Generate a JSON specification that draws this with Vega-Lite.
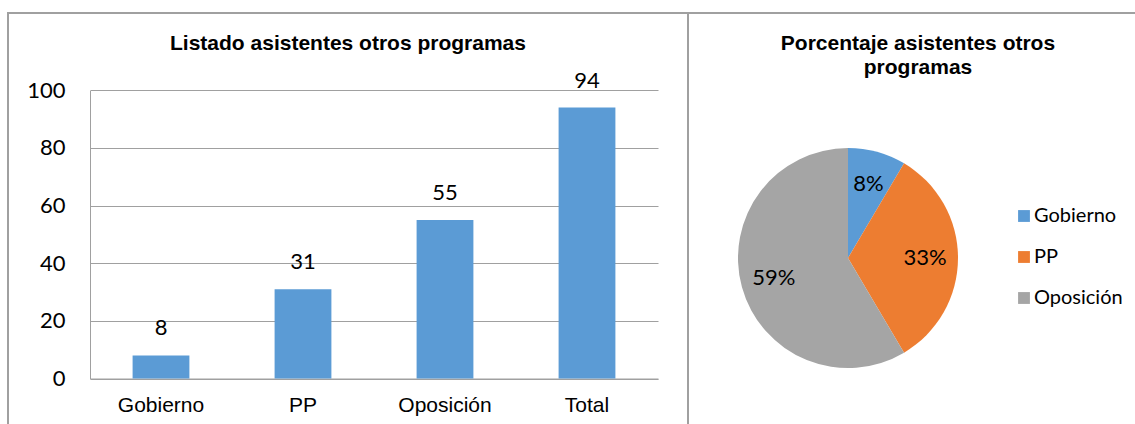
{
  "$schema": "https://vega.github.io/schema/vega-lite/v6.json",
  "padding": {"left": 7, "top": 12, "right": 0, "bottom": 0},
  "background": "white",
  "spacing": 0,
  "bounds": "flush",
  "datasets": {
    "bars": [
      {"cat": "Gobierno", "value": 8},
      {"cat": "PP", "value": 31},
      {"cat": "Oposición", "value": 55},
      {"cat": "Total", "value": 94}
    ],
    "pie": [
      {"cat": "Gobierno", "value": 8, "pct": "8%", "order": 1},
      {"cat": "PP", "value": 31, "pct": "33%", "order": 2},
      {"cat": "Oposición", "value": 55, "pct": "59%", "order": 3}
    ]
  },
  "config": {
    "view": {"stroke": "#a0a0a0", "strokeWidth": 2},
    "style": {"view": {"stroke": "#a0a0a0", "strokeWidth": 2}},
    "title": {"font": "Liberation Sans", "fontSize": 21, "fontWeight": "bold", "color": "#000000", "anchor": "middle"}
  },
  "hconcat": [
    {
      "width": 680,
      "height": 420,
      "data": {"name": "bars"},
      "title": {"text": "Listado asistentes otros programas", "offset": -41},
      "encoding": {
        "x": {
          "field": "cat", "type": "nominal", "sort": null,
          "scale": {"range": [82, 650], "paddingInner": 0.6, "paddingOuter": 0.3},
          "axis": {"orient": "bottom", "offset": -54.5, "title": null, "labelAngle": 0, "labelFont": "Liberation Sans", "labelFontSize": 21, "labelColor": "#000000", "labelBaseline": "alphabetic", "labelPadding": 33, "ticks": false, "tickSize": 0, "domainColor": "#a0a0a0", "grid": false}
        },
        "y": {
          "field": "value", "type": "quantitative",
          "scale": {"domain": [0, 100], "range": [365.5, 77.3], "nice": false},
          "axis": {"offset": -82, "title": null, "values": [0, 20, 40, 60, 80, 100], "labelFont": "Lato", "labelFontSize": 22, "labelColor": "#000000", "labelPadding": 25, "ticks": false, "tickSize": 0, "domainColor": "#a0a0a0", "gridColor": "#a0a0a0", "grid": true, "labelBaseline": "middle"}
        }
      },
      "layer": [
        {"mark": {"type": "bar", "color": "#5B9BD5"}},
        {"mark": {"type": "text", "baseline": "alphabetic", "dy": -20, "font": "Lato", "fontSize": 22, "color": "#000000"},
         "encoding": {"text": {"field": "value", "type": "quantitative"}}}
      ]
    },
    {
      "width": 470,
      "height": 420,
      "data": {"name": "pie"},
      "view": {"stroke": "#a0a0a0", "strokeWidth": 2},
      "title": {"text": ["Porcentaje asistentes otros", "programas"], "offset": -65, "lineHeight": 24, "dx": -5},
      "encoding": {
        "theta": {"field": "value", "type": "quantitative", "stack": true},
        "order": {"field": "order", "type": "quantitative"}
      },
      "layer": [
        {"mark": {"type": "arc", "x": 160, "y": 245, "outerRadius": 110},
         "encoding": {
           "color": {
             "field": "cat", "type": "nominal",
             "scale": {"domain": ["Gobierno", "PP", "Oposición"], "range": ["#5B9BD5", "#ED7D31", "#A5A5A5"]},
             "legend": {"orient": "none", "legendX": 1006, "legendY": 193, "title": null, "symbolType": "square", "symbolSize": 140, "symbolStrokeWidth": 0, "labelFont": "Lato", "labelFontSize": 20, "labelColor": "#000000", "rowPadding": 21, "labelOffset": 0}
           }
         }},
        {"mark": {"type": "text", "x": 160, "y": 245, "radius": 77, "font": "Lato", "fontSize": 22, "color": "#000000"},
         "encoding": {"text": {"field": "pct", "type": "nominal"}}}
      ]
    }
  ]
}
